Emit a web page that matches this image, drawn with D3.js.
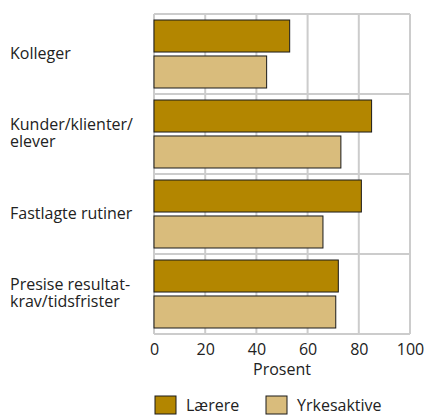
<!DOCTYPE html>
<html>
<head>
<meta charset="utf-8">
<script src="https://cdn.jsdelivr.net/npm/d3@7"></script>
<style>
  body { margin: 0; background: #fff; }
  text { font-family: "Open Sans", "Noto Sans", sans-serif; fill: #222; }
</style>
</head>
<body>
<div class="chart"></div>
<script>
// Data
var categories = [["Kolleger"], ["Kunder/klienter/", "elever"], ["Fastlagte rutiner"], ["Presise resultat-", "krav/tidsfrister"]];
var series = ["Lærere", "Yrkesaktive"];
var laerere = [53, 85, 81, 72];
var yrkesaktive = [44, 73, 66, 71];
var ticks = [0, 20, 40, 60, 80, 100];
var colors = ["#b38600", "#d9bc7c"];

var svgWidth = 429, svgHeight = 416;
var margin = { top: 14, left: 154, right: 19, bottom: 82 };
var width = svgWidth - margin.left - margin.right;
var height = svgHeight - margin.top - margin.bottom;
var fontSize = "16px";

var svg = d3.select(".chart").append("svg")
  .attr("width", svgWidth)
  .attr("height", svgHeight);

var chartGroup = svg.append("g")
  .attr("transform", `translate(${margin.left}, ${margin.top})`);

var x = d3.scaleLinear().domain([0, 100]).range([0, width]);
var y = d3.scaleBand().domain(d3.range(categories.length)).range([0, height]);
var inner = d3.scaleBand().domain(series).range([6, y.bandwidth() - 6]).paddingInner(0.11);

// grid
chartGroup.selectAll(".vgrid").data(ticks).enter().append("line")
  .attr("x1", d => x(d)).attr("x2", d => x(d))
  .attr("y1", 0).attr("y2", height)
  .attr("stroke", "#cccccc").attr("stroke-width", 2);

chartGroup.selectAll(".hgrid").data(d3.range(categories.length + 1)).enter().append("line")
  .attr("x1", 0).attr("x2", width)
  .attr("y1", d => d * y.bandwidth()).attr("y2", d => d * y.bandwidth())
  .attr("stroke", "#cccccc").attr("stroke-width", 2);

// bars
var values = [laerere, yrkesaktive];
series.forEach(function(s, si) {
  chartGroup.selectAll(".bar" + si).data(values[si]).enter().append("rect")
    .attr("x", x(0))
    .attr("y", (d, i) => y(i) + inner(s))
    .attr("width", d => x(d) - x(0))
    .attr("height", inner.bandwidth())
    .attr("fill", colors[si])
    .attr("stroke", "#1a1a1a")
    .attr("stroke-width", 1);
});

// category labels
categories.forEach(function(lines, i) {
  var cy = y(i) + y.bandwidth() / 2 + margin.top;
  var t = svg.append("text")
    .attr("x", 10)
    .attr("font-size", fontSize);
  lines.forEach(function(line, li) {
    t.append("tspan")
      .attr("x", 10)
      .attr("y", cy + (li - (lines.length - 1) / 2) * 17)
      .attr("dy", "0.3em")
      .text(line);
  });
});

// x axis
var bottomAxis = d3.axisBottom(x).tickValues(ticks).tickSize(0).tickPadding(10);
var axisG = chartGroup.append("g")
  .attr("transform", `translate(0, ${height})`)
  .call(bottomAxis);
axisG.select(".domain").remove();
axisG.selectAll("text").attr("font-size", fontSize).attr("fill", "#222")
  .attr("font-family", "'Open Sans', 'Noto Sans', sans-serif");

chartGroup.append("text")
  .attr("x", x(50))
  .attr("y", height + 41)
  .attr("text-anchor", "middle")
  .attr("font-size", fontSize)
  .text("Prosent");

// legend
var legend = svg.append("g").attr("transform", "translate(155, 396)");
var legendX = [0, 111];
series.forEach(function(s, si) {
  legend.append("rect")
    .attr("x", legendX[si]).attr("y", 0)
    .attr("width", 21).attr("height", 18)
    .attr("fill", colors[si])
    .attr("stroke", "#1a1a1a");
  legend.append("text")
    .attr("x", legendX[si] + 31)
    .attr("y", 15)
    .attr("font-size", fontSize)
    .text(s);
});
</script>
</body>
</html>
